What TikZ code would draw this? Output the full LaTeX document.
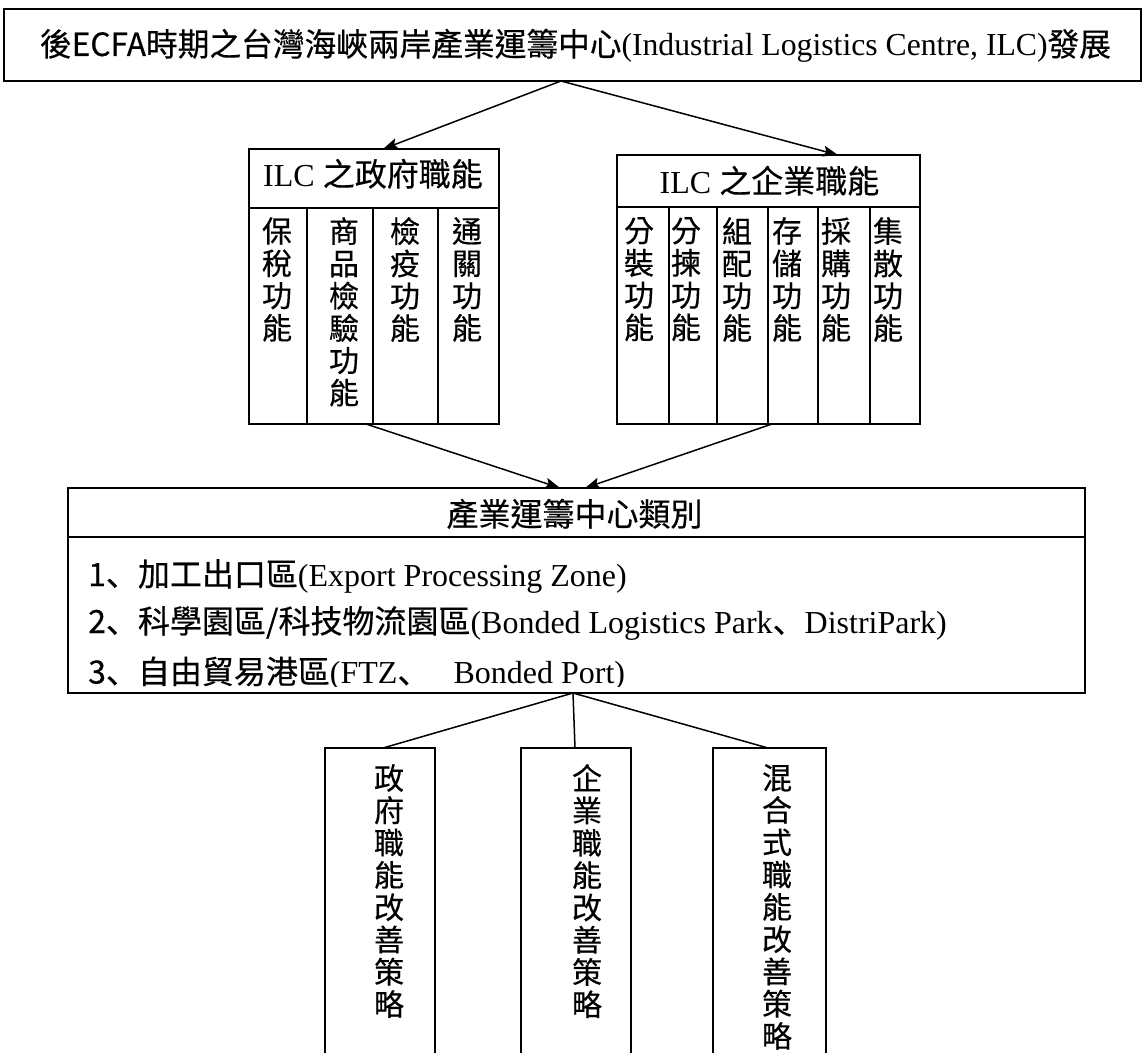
\documentclass[tikz,border=0pt]{standalone}
\usepackage{graphicx}
\usepackage{fontspec}
\setmainfont{Liberation Serif}
\newfontfamily\cjk[FakeBold=0.4]{Noto Sans CJK TC}
\newfontfamily\cjkjp[FakeBold=0.4]{Noto Sans CJK JP}
\newcommand\dunhao{{\cjkjp 、}}
\usetikzlibrary{arrows.meta,calc}
\begin{document}
\begin{tikzpicture}[x=1pt,y=-1pt,
  box/.style={draw, inner sep=0pt, outer sep=0pt, line width=1.5pt},
  arr/.style={-{Stealth[length=15pt,width=11pt,inset=3pt]}, line width=1.5pt},
  conn/.style={line width=1.5pt},
  vtext/.style={anchor=north, inner sep=0pt, align=center, font=\cjk\fontsize{30}{32.3}\selectfont},
  htext/.style={anchor=base, inner sep=0pt, font=\fontsize{32}{34}\selectfont},
  ltext/.style={anchor=base west, inner sep=0pt, font=\fontsize{32}{34}\selectfont}]
\clip (0,0) rectangle (1143,1052);
\fill[white] (0,0) rectangle (1143,1052);

% title
\node[box, minimum width=1137pt, minimum height=72pt] (top) at (572.5,45) {};
\node[htext] (title) at (575.5,56) {\resizebox{1071pt}{\height}{{\cjk 後ECFA時期之台灣海峽兩岸產業運籌中心}(Industrial Logistics Centre, ILC){\cjk 發展}}};

% government functions
\node[box, minimum width=250pt, minimum height=59pt] (govhead) at (374,178.5) {};
\node[htext] (govtitle) at (373,186) {ILC {\cjk 之政府職能}};
\node[box, minimum width=58pt, minimum height=216pt] (g1) at (278,316) {};
\node[box, minimum width=66pt, minimum height=216pt] (g2) at (340,316) {};
\node[box, minimum width=65pt, minimum height=216pt] (g3) at (405.5,316) {};
\node[box, minimum width=61pt, minimum height=216pt] (g4) at (468.5,316) {};
\node[vtext] (g1t) at (277,217) {保\\稅\\功\\能};
\node[vtext] (g2t) at (344,217) {商\\品\\檢\\驗\\功\\能};
\node[vtext] (g3t) at (405,217) {檢\\疫\\功\\能};
\node[vtext] (g4t) at (467,217) {通\\關\\功\\能};

% enterprise functions
\node[box, minimum width=303pt, minimum height=52pt] (enthead) at (768.5,181) {};
\node[htext] (enttitle) at (769.5,193) {ILC {\cjk 之企業職能}};
\node[box, minimum width=52pt, minimum height=217pt] (e1) at (643,315.5) {};
\node[box, minimum width=48pt, minimum height=217pt] (e2) at (693,315.5) {};
\node[box, minimum width=51pt, minimum height=217pt] (e3) at (742.5,315.5) {};
\node[box, minimum width=50pt, minimum height=217pt] (e4) at (793,315.5) {};
\node[box, minimum width=52pt, minimum height=217pt] (e5) at (844,315.5) {};
\node[box, minimum width=50pt, minimum height=217pt] (e6) at (895,315.5) {};
\node[vtext] (e1t) at (639,217) {分\\裝\\功\\能};
\node[vtext] (e2t) at (686,217) {分\\揀\\功\\能};
\node[vtext] (e3t) at (737,217) {組\\配\\功\\能};
\node[vtext] (e4t) at (787,217) {存\\儲\\功\\能};
\node[vtext] (e5t) at (836,217) {採\\購\\功\\能};
\node[vtext] (e6t) at (888,217) {集\\散\\功\\能};

% categories
\node[box, minimum width=1017pt, minimum height=49pt] (midhead) at (576.5,512.5) {};
\node[box, minimum width=1017pt, minimum height=156pt] (midbody) at (576.5,615) {};
\node[htext] (midtitle) at (574.5,526) {\cjk 產業運籌中心類別};
\node[ltext] (l1) at (88,586) {{\cjk 1\dunhao 加工出口區}(Export Processing Zone)};
\node[ltext] (l2) at (88,633) {{\cjk 2\dunhao 科學園區/科技物流園區}(Bonded Logistics Park\dunhao DistriPark)};
\begin{scope}
\clip (70,640) rectangle (1083,686);
\node[ltext] (l3) at (88,683.5) {{\cjk 3\dunhao 自由貿易港區}(FTZ\dunhao\hspace{24pt}Bonded Port)};
\end{scope}

% strategies
\node[box, minimum width=110pt, minimum height=322pt] (b1) at (380,909) {};
\node[box, minimum width=110pt, minimum height=322pt] (b2) at (576,909) {};
\node[box, minimum width=113pt, minimum height=322pt] (b3) at (769.5,909) {};
\node[vtext] (b1t) at (389,764) {政\\府\\職\\能\\改\\善\\策\\略};
\node[vtext] (b2t) at (587,764) {企\\業\\職\\能\\改\\善\\策\\略};
\node[vtext] (b3t) at (777,764) {混\\合\\式\\職\\能\\改\\善\\策\\略};

% connectors
\draw[arr] ([xshift=-11.5pt]top.south) -- ([xshift=9pt]govhead.north);
\draw[arr] ([xshift=-11.5pt]top.south) -- ([xshift=69.5pt]enthead.north);
\draw[arr] ([xshift=26pt]g2.south) -- ([xshift=-16.5pt]midhead.north);
\draw[arr] ([xshift=-21pt]e4.south) -- ([xshift=8.5pt]midhead.north);
\draw[conn] ([xshift=-3.5pt]midbody.south) -- ([xshift=3pt]b1.north);
\draw[conn] ([xshift=-3.5pt]midbody.south) -- ([xshift=-1pt]b2.north);
\draw[conn] ([xshift=-3.5pt]midbody.south) -- ([xshift=-1.5pt]b3.north);
\end{tikzpicture}
\end{document}
